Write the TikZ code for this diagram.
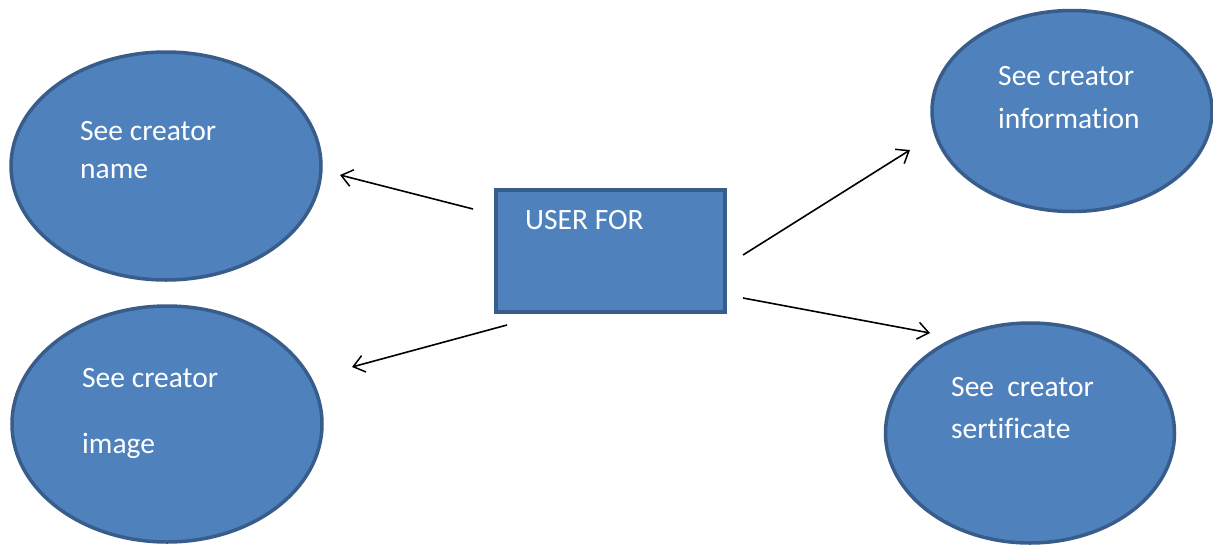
\documentclass[tikz,border=0pt]{standalone}
\usepackage{fontspec}
\setmainfont[Ligatures=NoCommon]{Carlito}
\usetikzlibrary{arrows.meta,shapes.geometric}
\definecolor{fillblue}{HTML}{4F81BD}
\definecolor{edgeblue}{HTML}{385D8A}
\tikzset{
  bubble/.style={ellipse, draw=edgeblue, fill=fillblue, line width=3.5pt, inner sep=0pt},
  boxnode/.style={rectangle, draw=edgeblue, fill=fillblue, line width=4pt, inner sep=0pt},
  lbl/.style={anchor=base west, text=white, font=\fontsize{29.5}{30}\selectfont, inner sep=0pt},
  conn/.style={-{Straight Barb[length=11pt,width=17pt,line width=1.5pt]}, line width=1.6pt, black}
}
\begin{document}
\begin{tikzpicture}[x=1pt,y=-1pt]
\useasboundingbox (0,0) rectangle (1213,544);
\fill[white] (0,0) rectangle (1213,544);
% ellipses
\node[bubble, minimum width=310pt, minimum height=228pt] (e1) at (166,166) {};
\node[bubble, minimum width=310pt, minimum height=236pt] (e2) at (167,424) {};
\node[bubble, minimum width=280pt, minimum height=201pt] (e3) at (1072,111) {};
\node[bubble, minimum width=289pt, minimum height=220pt] (e4) at (1030,433) {};
% box
\node[boxnode, minimum width=229pt, minimum height=122pt] (box) at (610.5,251) {};
% labels
\node[lbl] (t1a) at (80,140) {See creator};
\node[lbl] (t1b) at (80,178) {name};
\node[lbl] (t2a) at (82,387) {See creator};
\node[lbl] (t2b) at (82,453) {image};
\node[lbl] (t3a) at (998,85) {See creator};
\node[lbl] (t3b) at (998,128) {information};
\node[lbl] (t4a) at (951,396) {See\ \ creator};
\node[lbl] (t4b) at (951,438) {sertificate};
\node[lbl] (tb) at (525,229) {USER FOR};
% arrow end points
\coordinate (a1s) at (473,209);
\coordinate (a1e) at (340,175);
\coordinate (a2s) at (507,325);
\coordinate (a2e) at (352,367);
\coordinate (a3s) at (743,255);
\coordinate (a3e) at (910,150);
\coordinate (a4s) at (743,298);
\coordinate (a4e) at (930,333);
\draw[conn] (a1s) -- (a1e);
\draw[conn] (a2s) -- (a2e);
\draw[conn] (a3s) -- (a3e);
\draw[conn] (a4s) -- (a4e);
\end{tikzpicture}
\end{document}
